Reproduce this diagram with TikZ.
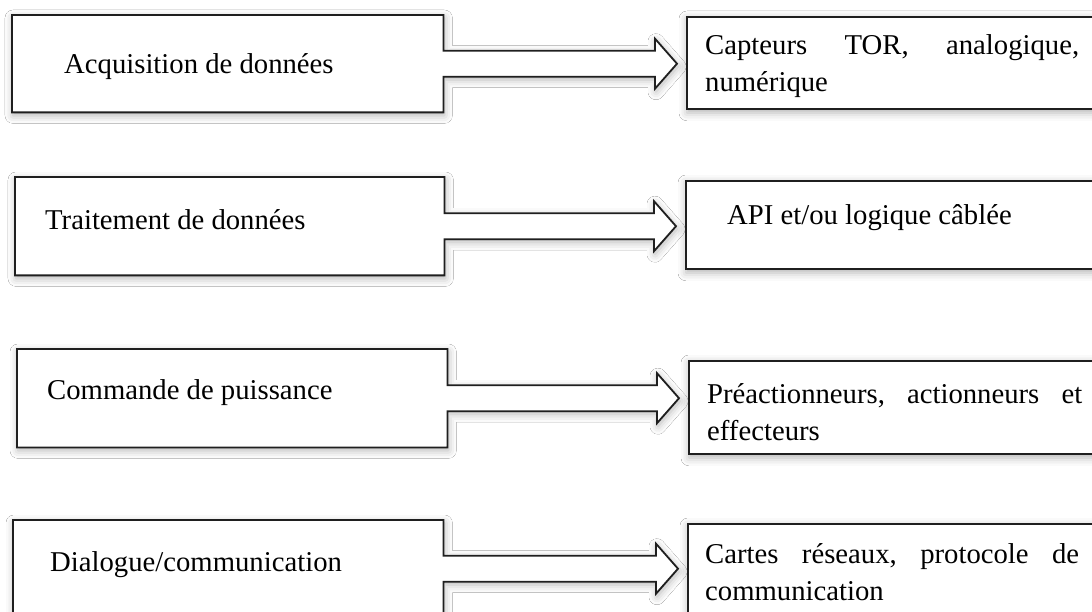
\documentclass[tikz,border=0pt]{standalone}
\usepackage{fontspec}
\setmainfont{Liberation Serif}
\usetikzlibrary{shadows.blur,calc}
\pgfdeclarelayer{shadowlayer}
\pgfdeclarelayer{bglayer}
\pgfsetlayers{shadowlayer,bglayer,main}
% box + arrow outline: from left box #1 to right box #2
\newcommand\combopath[2]{let \p1=(#1.north west), \p2=(#1.south east), \p3=(#2.west) in
 (\x1,\y1) -- (\x2,\y1) -- (\x2,{(\y1+\y2)/2+13pt}) -- (\x3-31pt,{(\y1+\y2)/2+13pt})
 -- (\x3-31pt,{(\y1+\y2)/2+25pt}) -- (\x3-9pt,{(\y1+\y2)/2}) -- (\x3-31pt,{(\y1+\y2)/2-25pt})
 -- (\x3-31pt,{(\y1+\y2)/2-13pt}) -- (\x2,{(\y1+\y2)/2-13pt}) -- (\x2,\y2) -- (\x1,\y2) -- cycle}
\begin{document}
\begin{tikzpicture}[x=1pt,y=-1pt,
  outl/.style={draw=black!88, line width=1.8pt, line join=miter, fill=white},
  geom/.style={draw=none, fill=none, inner sep=0pt, anchor=north west},
  rbox/.style={outl, inner sep=0pt, anchor=north west, minimum width=430pt},
  shd/.style={blur shadow={shadow xshift=1pt, shadow yshift=-3pt, shadow blur radius=8pt, shadow opacity=30}},
  lbl/.style={inner sep=0pt, anchor=base west, font=\fontsize{28.7}{37}\selectfont},
  rlbl/.style={lbl, align=left}]
\useasboundingbox (0,0) rectangle (1092,612);
\begin{pgfonlayer}{shadowlayer}
  \fill[white] (0,0) rectangle (1092,612);
\end{pgfonlayer}

% left boxes (geometry)
\node[geom, minimum width=431pt, minimum height=97pt] (L1) at (12,15) {};
\node[geom, minimum width=429pt, minimum height=98pt] (L2) at (15,177) {};
\node[geom, minimum width=430pt, minimum height=98pt] (L3) at (17,349) {};
\node[geom, minimum width=430pt, minimum height=97pt] (L4) at (13,520) {};

% right boxes
\node[rbox, minimum height=92pt] (R1) at (686,16) {};
\node[rbox, minimum height=88pt] (R2) at (685,180) {};
\node[rbox, minimum height=93pt] (R3) at (688,360) {};
\node[rbox, minimum height=95pt] (R4) at (687,523) {};

\begin{pgfonlayer}{shadowlayer}
  \foreach \i in {1,2,3,4}{
    \path[shd] (R\i.north west) rectangle (R\i.south east);
  }
  \path[shd] \combopath{L1}{R1};
  \path[shd] \combopath{L2}{R2};
  \path[shd] \combopath{L3}{R3};
  \path[shd] \combopath{L4}{R4};
\end{pgfonlayer}

\begin{pgfonlayer}{bglayer}
  \draw[outl] \combopath{L1}{R1};
  \draw[outl] \combopath{L2}{R2};
  \draw[outl] \combopath{L3}{R3};
  \draw[outl] \combopath{L4}{R4};
\end{pgfonlayer}

% texts
\node[lbl] (L1t) at (64,74) {Acquisition de données};
\node[lbl] (L2t) at (45,230) {Traitement de données};
\node[lbl] (L3t) at (47,399) {Commande de puissance};
\node[lbl] (L4t) at (50,571) {Dialogue/communication};

\node[rlbl, text width=374pt] (R1t) at (705,55) {Capteurs\hfill TOR,\hfill analogique,\\numérique};
\node[lbl] (R2t) at (727,225) {API et/ou logique câblée};
\node[rlbl, text width=375pt] (R3t) at (707,403) {Préactionneurs,\hfill actionneurs\hfill et\\effecteurs};
\node[rlbl, text width=374pt] (R4t) at (705,563) {Cartes\hfill réseaux,\hfill protocole\hfill de\\communication};
\end{tikzpicture}
\end{document}
